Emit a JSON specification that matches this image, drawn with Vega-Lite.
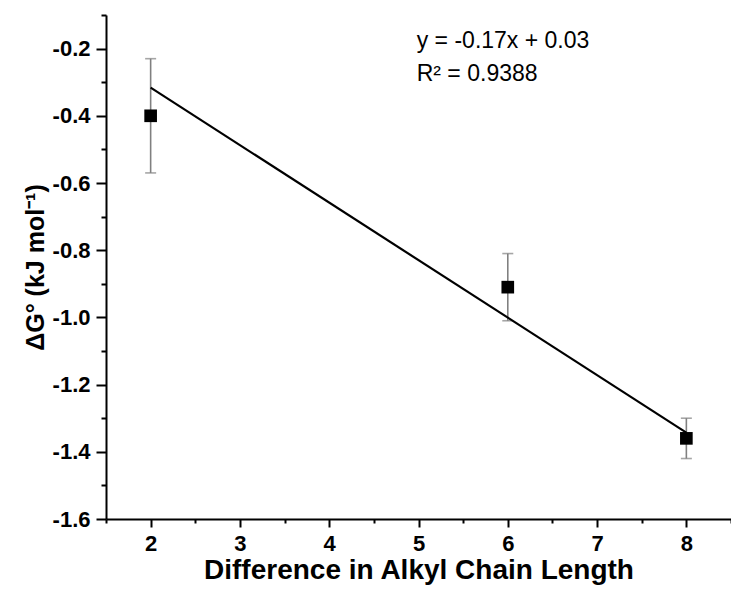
{
  "$schema": "https://vega.github.io/schema/vega-lite/v6.json",
  "width": 625,
  "height": 504,
  "autosize": "none",
  "padding": {"left": 106, "top": 15, "right": 0, "bottom": 76},
  "background": "white",
  "config": {
    "view": {"stroke": null},
    "axis": {
      "grid": false,
      "domainColor": "black",
      "domainWidth": 2,
      "tickColor": "black",
      "tickWidth": 2,
      "labelColor": "black",
      "labelFont": "Liberation Sans",
      "labelFontWeight": "bold",
      "labelFontSize": 22,
      "titleColor": "black",
      "titleFont": "Liberation Sans",
      "titleFontWeight": "bold"
    }
  },
  "datasets": {
    "points": [
      {"x": 2, "y": -0.40, "lo": -0.57, "hi": -0.23},
      {"x": 6, "y": -0.91, "lo": -1.01, "hi": -0.81},
      {"x": 8, "y": -1.36, "lo": -1.42, "hi": -1.30}
    ],
    "fit": [
      {"x": 2, "y": -0.316},
      {"x": 8, "y": -1.343}
    ],
    "notes": [
      {"x": 4.98, "y": -0.197, "label": "y = -0.17x + 0.03"},
      {"x": 4.98, "y": -0.2955, "label": "R² = 0.9388"}
    ]
  },
  "resolve": {"axis": {"x": "independent", "y": "independent"}},
  "layer": [
    {
      "data": {"name": "points"},
      "mark": {"type": "rule", "color": "#808080", "strokeWidth": 1.6},
      "encoding": {
        "x": {
          "field": "x", "type": "quantitative",
          "scale": {"domain": [1.5, 8.5], "nice": false, "zero": false},
          "axis": {
            "orient": "bottom",
            "values": [2, 3, 4, 5, 6, 7, 8],
            "format": "d",
            "tickSize": 8,
            "labelPadding": 6,
            "title": "Difference in Alkyl Chain Length",
            "titleFontSize": 28,
            "titlePadding": 2
          }
        },
        "y": {
          "field": "lo", "type": "quantitative",
          "scale": {"domain": [-1.6, -0.1], "nice": false, "zero": false},
          "axis": {
            "orient": "left",
            "values": [-1.6, -1.4, -1.2, -1.0, -0.8, -0.6, -0.4, -0.2],
            "labelExpr": "replace(format(datum.value, '.1f'), '−', '-')",
            "tickSize": 10,
            "labelPadding": 6,
            "title": "ΔG° (kJ mol⁻¹)",
            "titleFontSize": 25,
            "titlePadding": 4
          }
        },
        "y2": {"field": "hi"}
      }
    },
    {
      "data": {"name": "points"},
      "transform": [{"fold": ["lo", "hi"], "as": ["which", "cap"]}],
      "mark": {"type": "tick", "orient": "horizontal", "color": "#808080", "size": 11, "thickness": 1.6},
      "encoding": {
        "x": {"field": "x", "type": "quantitative", "axis": null},
        "y": {"field": "cap", "type": "quantitative", "axis": null}
      }
    },
    {
      "data": {"name": "fit"},
      "mark": {"type": "line", "color": "black", "strokeWidth": 2.2},
      "encoding": {
        "x": {"field": "x", "type": "quantitative", "axis": null},
        "y": {"field": "y", "type": "quantitative", "axis": null}
      }
    },
    {
      "data": {"name": "points"},
      "mark": {"type": "square", "color": "black", "filled": true, "opacity": 1, "size": 160},
      "encoding": {
        "x": {"field": "x", "type": "quantitative", "axis": null},
        "y": {"field": "y", "type": "quantitative", "axis": null}
      }
    },
    {
      "data": {"name": "notes"},
      "mark": {"type": "text", "align": "left", "baseline": "alphabetic", "font": "Liberation Sans", "fontSize": 23, "color": "black"},
      "encoding": {
        "x": {
          "field": "x", "type": "quantitative",
          "axis": {
            "orient": "bottom",
            "values": [1.5, 2.5, 3.5, 4.5, 5.5, 6.5, 7.5, 8.5],
            "tickSize": 4,
            "labels": false,
            "domain": false,
            "title": null
          }
        },
        "y": {
          "field": "y", "type": "quantitative",
          "axis": {
            "orient": "left",
            "values": [-1.5, -1.3, -1.1, -0.9, -0.7, -0.5, -0.3, -0.1],
            "tickSize": 5,
            "labels": false,
            "domain": false,
            "title": null
          }
        },
        "text": {"field": "label"}
      }
    }
  ]
}
